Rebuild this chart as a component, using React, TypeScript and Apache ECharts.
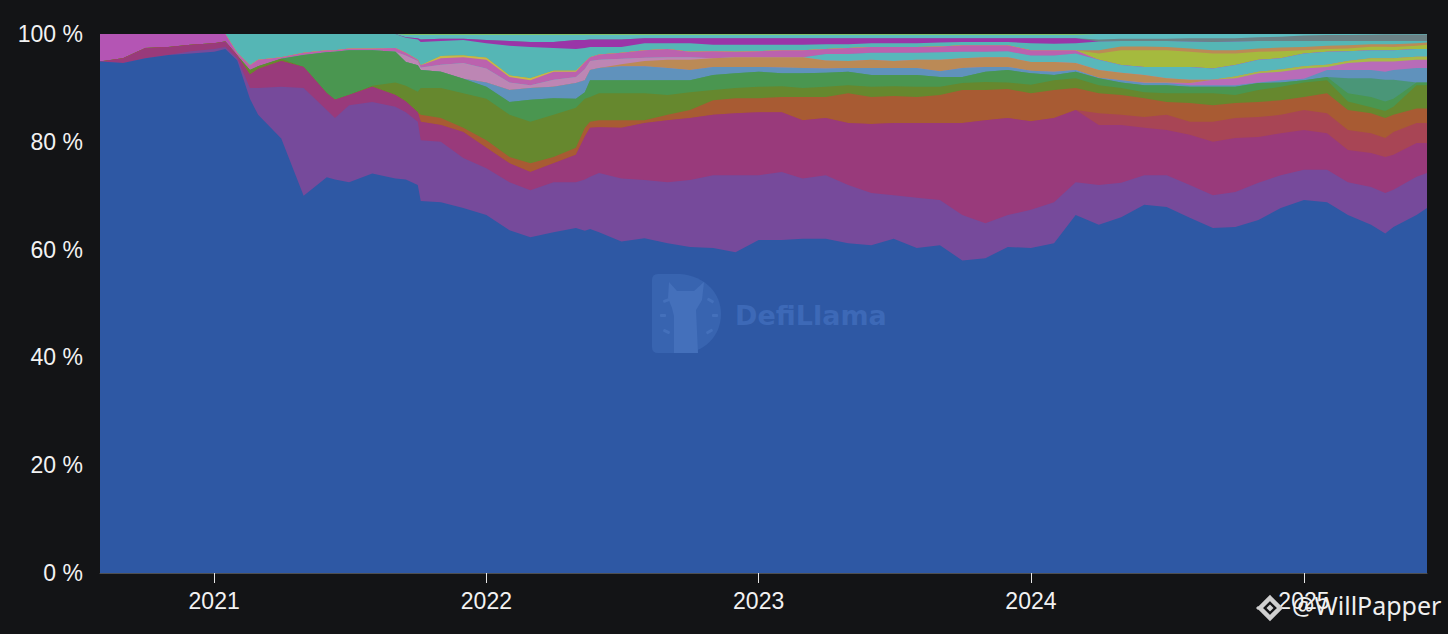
import React, { useEffect, useRef } from "react";
import * as echarts from "echarts";

const sampleDates = [
  "2020-08-01","2020-09-01","2020-10-01","2020-11-01","2020-12-01","2021-01-01","2021-01-16",
  "2021-02-01","2021-02-18","2021-03-01","2021-04-01","2021-05-01","2021-06-01","2021-06-12","2021-07-01","2021-08-01","2021-09-01","2021-09-15","2021-10-01","2021-10-05",
  "2021-11-01","2021-12-01","2022-01-01","2022-02-01","2022-03-01","2022-04-01","2022-05-01","2022-05-13","2022-05-20","2022-06-01","2022-07-01","2022-08-01","2022-09-01","2022-10-01","2022-11-01","2022-12-01",
  "2023-01-01","2023-02-01","2023-03-01","2023-04-01","2023-05-01","2023-06-01","2023-07-01","2023-08-01","2023-09-01","2023-10-01","2023-11-01","2023-12-01",
  "2024-01-01","2024-02-01","2024-03-01","2024-04-01","2024-05-01","2024-06-01","2024-07-01","2024-08-01","2024-09-01","2024-10-01","2024-11-01","2024-12-01",
  "2025-01-01","2025-02-01","2025-03-01","2025-04-01","2025-04-20","2025-05-01","2025-06-01","2025-06-15",
];
const yearTicks = ["2021-01-01", "2022-01-01", "2023-01-01", "2024-01-01", "2025-01-01"];
const percentTicks = [0, 20, 40, 60, 80, 100];

// Upper edge of each band in the 100% stack (0 = band absent).
const blueTop = [94.9,94.6,95.5,96.1,96.4,96.7,97.2,
  95.1,88,85,80.6,70,73.4,73,72.5,74.1,73.2,73,72,69,
  68.8,67.7,66.4,63.6,62.3,63.2,64,63.5,63.8,63.2,61.5,62.1,61.2,60.5,60.3,59.5,
  61.8,61.8,62,62,61.2,60.8,62,60.3,60.8,58,58.4,60.5,
  60.3,61.2,66.4,64.6,66,68.3,67.9,65.9,64,64.2,65.5,67.7,
  69.2,68.8,66.4,64.6,63,64.2,66.4,67.7];
const purpleTop = [0,0,0,0,96.8,97.2,97.6,
  95.5,90,90,90.2,90,85.9,84.4,86.8,87.4,86.5,85.5,83.7,80.3,
  80,77,75.1,72.5,71,72.5,72.5,73,73.5,74.2,73.2,72.9,72.5,72.9,73.8,73.8,
  73.8,74.4,73.2,73.8,72,70.5,70.1,69.6,69.2,66.4,64.9,66.4,
  67.4,68.8,72.5,72,72.4,73.8,73.8,72,70.1,70.7,72.4,73.8,
  74.8,74.8,72.5,71.6,70.5,71.1,73.5,74.2];
const magentaTop = [0,95.5,97.4,97.6,98,98.3,98.6,
  96,92.5,93.5,95,93.9,89,87.8,88.7,90.2,88.7,87.5,85.5,83.7,
  83.1,81.8,78.9,76,74.4,76,77.6,81,82.6,82.7,82.6,83.5,84,84.4,85,85.3,
  85.5,85.5,84,84.4,83.5,83.3,83.5,83.5,83.5,83.5,84,84.4,
  83.8,84.4,85.9,83.1,83.1,82.6,82.2,81.3,80,80.7,80.9,81.6,
  82.2,81.6,78.5,77.9,77.2,77.6,79.8,79.8];
const crimsonTop = [0,0,0,0,0,0,0,
  0,0,0,0,0,0,0,0,0,0,0,0,0,
  0,0,0,0,0,0,0,0,0,0,0,0,0,0,0,0,
  0,0,0,0,0,0,0,0,0,0,0,0,
  0,0,0,85.3,85,84.6,85,83.7,83.7,84.4,84.6,85,
  85.9,85.3,82.2,81.6,80.7,81.8,83.5,83.5];
const orangeTop = [0,0,0,0,0,0,0,
  0,0,0,0,0,0,0,0,0,0,0,0,85,
  84.4,82.6,80.3,77.2,76,77.2,78.9,82.6,83.7,84,84,84,85,85.9,87.7,88.1,
  88.1,88.3,88.3,88.3,89,88.3,88.5,88.3,88.7,89.6,89.6,89.8,
  89,89.6,90,89,88.7,88.1,87.4,87.2,86.8,87.2,87.4,87.7,
  88.3,89,85.9,85.3,84.4,85,86.2,86.2];
const oliveTop = [0,0,0,0,0,0,0,
  0,93.3,94,95.4,0,0,0,0,90.4,91,90.4,89.3,90,
  90,89,88,85,83.7,85,86.3,88,88.3,89,89,89,88.7,89.2,89.6,90,
  90.2,90.3,90,90.2,90.5,90.2,90.3,90.2,90.2,90.9,91.1,91,
  90.6,91.4,91.8,90.5,90,89.2,89,89,89,88.7,89.6,90.2,
  91,91.4,87.5,86.4,85.7,86.5,90.5,90.5];
const greenTop = [0,0,0,0,0,0,0,
  0,0,0,0,96.1,96.6,96.7,97,97,96.7,94.8,94.2,93.3,
  93,91.7,90.2,87.4,87.8,88.1,88,89.2,91.4,91.4,91.4,91.4,91.4,91.4,92.4,92.7,
  93,92.7,92.7,92.8,93,92.4,92.4,92.4,92,92,93,93.3,
  92.7,92.4,93,91.8,91,90.5,90.5,90.2,90.2,90.2,90.9,91,
  91.4,92,89,88.3,87.5,88,91,91];
const seaGreenTop = [0,0,0,0,0,0,0,
  0,0,0,0,0,0,0,0,0,0,0,0,0,
  0,0,0,0,0,0,0,0,0,0,0,0,0,0,0,0,
  0,0,0,0,0,0,0,0,0,0,0,0,
  0,0,0,0,0,0,0,0,0,0,0,0,
  0,92,91.8,91.8,91.5,91.5,0,0];
const steelTop = [0,0,0,0,0,0,0,
  0,0,0,0,0,0,0,0,0,0,0,0,0,
  0,0,91,89.6,90,90.2,90.9,91.4,93.3,93.7,94,94,93.7,93.3,93.9,93.9,
  93.9,93.8,93.7,93.6,93.7,93.7,93.7,93.7,93.1,93.7,93.9,93.9,
  93.2,93,93.3,91.9,91.4,90.9,90.9,90.5,90.5,90.5,91,91.4,
  91.7,93.3,93.3,93.3,93,93.3,93.7,93.7];
const mauveLowTop = [0,0,0,0,0,0,0,
  0,0,0,0,0,0,0,0,0,0,0,0,0,
  0,0,0,0,0,0,0,0,0,0,0,0,0,0,0,0,
  0,0,0,0,0,0,0,0,0,0,0,0,
  0,0,0,0,0,91,91,90.9,91.5,91.8,92.7,93,
  93.6,93.9,94.6,94.9,94.9,94.9,95.2,95.2];
const limeLowTop = [0,0,0,0,0,0,0,
  0,0,0,0,0,0,0,0,0,0,0,0,0,
  0,0,0,0,0,0,0,0,0,0,0,0,0,0,0,0,
  0,0,0,0,0,0,0,0,0,0,0,0,
  0,0,0,0,0,0,0,0,0,92.1,93,93.4,
  94,94.3,95,95.5,95.5,95.5,95.8,95.8];
const tanTop = [0,0,0,0,0,0,0,
  0,0,0,0,0,0,0,0,0,0,0,0,0,
  0,0,0,0,0,0,0,0,0,0,94.4,95,95.2,95.2,95.5,95.7,
  95.7,95.7,95.7,95.1,95,95.2,95,95.2,95.2,95.5,95.7,95.7,
  94.8,94.8,94.6,93.3,92.8,92.4,91.8,91.5,0,0,0,0,
  0,0,0,0,0,0,0,0];
const paleTop = [0,0,0,0,0,0,0,
  0,0,0,0,0,0,0,0,96.6,96.7,96,95,93.8,
  94.3,94.6,93.6,91,90.5,91.5,92,93.5,95,95.2,95.4,95.6,95.7,95.7,0,0,
  0,0,0,0,0,0,0,0,0,0,0,0,
  0,0,0,0,0,0,0,0,0,0,0,0,
  0,0,0,0,0,0,0,0];
const tealLowTop = [0,0,0,0,0,0,0,
  0,0,0,0,0,0,0,0,0,0,0,0,0,
  0,0,0,0,0,0,0,0,0,0,0,0,0,0,0,0,
  0,0,0,96.3,96.3,96.5,96.5,96.5,96.6,96.7,96.7,96.8,
  96,96,96.4,95.2,94.25,93.9,93.9,93.9,93.6,94.25,95.2,95.5,
  96.4,96.7,96.8,97,97,97,97.2,97.2];
const mauveTop = [0,0,0,0,0,0,100,
  96.5,94.2,95.2,95.7,96.5,97,97,97.3,97.3,97.4,96.5,95.2,94.2,
  95.5,95.7,95.2,92,91.4,93,93,94.8,95.7,96.2,96.5,97,97.2,96.7,96.8,96.7,
  96.8,97,97,97.2,97.4,97.6,97.6,97.6,97.7,97.9,97.9,97.9,
  97,97,97,0,0,0,0,0,0,0,0,0,
  0,0,0,0,0,0,0,0];
const orchidTop = [100,100,100,100,100,100,100,
  0,0,0,0,0,0,0,0,0,0,0,0,0,
  0,0,0,0,0,0,0,0,0,0,0,0,0,0,0,0,
  0,0,0,0,0,0,0,0,0,0,0,0,
  0,0,0,0,0,0,0,0,0,0,0,0,
  0,0,0,0,0,0,0,0];
const goldTop = [0,0,0,0,0,0,0,
  0,0,0,0,0,0,0,0,0,0,0,0,0,
  95.9,96,95.6,92.3,91.8,93.2,93.2,0,0,0,0,0,0,0,0,0,
  0,0,0,0,0,0,0,0,0,0,0,0,
  0,0,0,0,0,0,0,0,0,0,0,0,
  0,0,0,0,0,0,0,0];
const yellowTop = [0,0,0,0,0,0,0,
  0,0,0,0,0,0,0,0,0,0,0,0,0,
  0,0,0,0,0,0,0,0,0,0,0,0,0,0,0,0,
  0,0,0,0,0,0,0,0,0,0,0,0,
  0,0,0,96.4,97,97,97,96.7,96.4,96.4,96.7,96.8,
  97,97.2,97.3,97.65,97.65,97.6,97.8,98];
const tanHighTop = [0,0,0,0,0,0,0,
  0,0,0,0,0,0,0,0,0,0,0,0,0,
  0,0,0,0,0,0,0,0,0,0,0,0,0,0,0,0,
  0,0,0,0,0,0,0,0,0,0,0,0,
  0,0,0,97,97.7,97.7,97.6,97.3,97,97,97.3,97.5,
  97.6,97.8,97.9,98.1,98.1,98.1,98.3,98.4];
const tealTop = [0,0,0,0,0,0,0,
  100,100,100,100,100,100,100,100,100,100,99.3,99,98.5,
  98.7,98.9,98.3,97.8,97.6,97.4,97.2,97.4,97.6,97.6,97.6,98.3,98.3,98.3,98,98,
  98,98,98,98.1,98.1,98.3,98.3,98.3,98.4,98.5,98.5,98.5,
  98.3,98.2,98.3,98.6,98.7,98.7,98.7,98.6,98.5,98.6,98.7,98.7,
  98.7,98.7,98.7,98.7,98.7,98.7,98.7,98.7];
const violetTop = [0,0,0,0,0,0,0,
  0,0,0,0,0,0,0,0,0,0,99.4,99.2,99,
  99.1,99.1,98.9,98.7,98.5,98.5,98.9,98.9,99,99,99,99.2,99.2,99.2,99.2,99.2,
  99.2,99.2,99.2,99.2,99.2,99.2,99.2,99.2,99.2,99.2,99.2,99.2,
  99.2,99.2,99.2,0,0,0,0,0,0,0,0,0,
  0,0,0,0,0,0,0,0];
const slateTop = [0,0,0,0,0,0,0,
  0,0,0,0,0,0,0,0,0,0,0,0,0,
  0,0,0,0,0,0,0,0,0,0,0,0,0,0,0,0,
  0,0,0,0,0,0,0,0,0,0,0,0,
  0,0,0,99,99.1,99.1,99.1,99.2,99.2,99.2,99.4,99.5,
  99.7,99.8,99.8,99.85,99.9,99.9,99.9,99.9];
const cyanTop = [0,0,0,0,0,0,0,
  0,0,0,0,0,0,0,0,0,0,99.8,99.8,99.8,
  99.8,99.8,99.8,99.8,99.8,99.8,99.8,99.8,99.8,99.8,99.8,99.8,99.8,99.8,99.8,99.8,
  99.8,99.8,99.8,99.8,99.8,99.8,99.8,99.8,99.8,99.8,99.8,99.8,
  99.8,99.8,99.8,100,100,100,100,100,100,100,100,100,
  100,100,100,100,100,100,100,100];
const limeTop = [0,0,0,0,0,0,0,
  0,0,0,0,0,0,0,0,0,0,100,100,100,
  100,100,100,100,100,100,100,100,100,100,100,100,100,100,100,100,
  100,100,100,100,100,100,100,100,100,100,100,100,
  100,100,100,0,0,0,0,0,0,0,0,0,
  0,0,0,0,0,0,0,0];

const bands: [string, number[], string][] = [
  ["blue", blueTop, "#2e58a4"],
  ["purple", purpleTop, "#764a9b"],
  ["magenta", magentaTop, "#993a7b"],
  ["crimson", crimsonTop, "#a84555"],
  ["orange", orangeTop, "#a85b33"],
  ["olive", oliveTop, "#66882e"],
  ["green", greenTop, "#4a9650"],
  ["seaGreen", seaGreenTop, "#4a9678"],
  ["steel", steelTop, "#6092bc"],
  ["mauveLow", mauveLowTop, "#b86cb8"],
  ["limeLow", limeLowTop, "#a8ba48"],
  ["tan", tanTop, "#bb8a56"],
  ["pale", paleTop, "#bd86b4"],
  ["tealLow", tealLowTop, "#58b7bb"],
  ["orchid", orchidTop, "#b455b4"],
  ["mauve", mauveTop, "#bb62ae"],
  ["gold", goldTop, "#c8b848"],
  ["yellow", yellowTop, "#a5ba3e"],
  ["tanHigh", tanHighTop, "#bb8a56"],
  ["teal", tealTop, "#55b6b5"],
  ["violet", violetTop, "#9a35a8"],
  ["slate", slateTop, "#6b8286"],
  ["cyan", cyanTop, "#5cbcc0"],
  ["lime", limeTop, "#7fc46a"],
];

const FONT = '"Liberation Sans", Arial, sans-serif';
const ms = (d: string) => Date.parse(d + "T00:00:00Z");

// Bands are cumulative: each fills from 0 up to its top, and lower bands paint over higher ones.
function buildSeries() {
  const running = sampleDates.map(() => 0);
  const list = bands.map(([name, tops, color]) => ({
    name,
    type: "line",
    symbol: "none",
    silent: true,
    lineStyle: { width: 0 },
    areaStyle: { color, opacity: 1, origin: "start" },
    data: sampleDates.map((d, i) => {
      running[i] = Math.max(running[i], tops[i]);
      return [ms(d), running[i]];
    }),
  }));
  return list.reverse();
}

export default function App() {
  const ref = useRef<HTMLDivElement>(null);
  useEffect(() => {
    const chart = echarts.init(ref.current!, null, { renderer: "svg" });
    echarts.graphic.registerShape(
      "llamaD",
      echarts.graphic.extendPath(
        "M0 6 Q0 0 6 0 L28 0 C54 2 69 20 69 40 C69 62 52 79 30 79 L6 79 Q0 79 0 73 Z",
        {}
      )
    );
    echarts.graphic.registerShape(
      "llamaBody",
      echarts.graphic.extendPath(
        "M17 8 L25 17 L42 17 L52 8 L50 26 L44 36 L46 79 L22 79 L22 42 L20 34 L16 24 Z",
        {}
      )
    );
    const rays = [[11, 25, 7, 3, 20], [55, 25, 7, 3, -30], [8, 40, 6, 3, 0], [60, 40, 6, 3, 0], [11, 56, 7, 3, -25], [54, 56, 7, 3, 30]];
    chart.setOption({
      animation: false,
      backgroundColor: "#131416",
      grid: { left: 100, right: 21, top: 34, bottom: 61, containLabel: false },
      xAxis: {
        type: "value",
        min: ms(sampleDates[0]),
        max: ms(sampleDates[sampleDates.length - 1]),
        scale: true,
        axisLine: { show: true, onZero: false, lineStyle: { color: "rgba(255,255,255,0.25)", width: 1 } },
        axisTick: { show: true, length: 10, customValues: yearTicks.map(ms), lineStyle: { color: "#e8e8e8", width: 1 } },
        axisLabel: {
          customValues: yearTicks.map(ms),
          formatter: (v: number) => String(new Date(v).getUTCFullYear()),
          color: "#f2f2f2",
          fontFamily: FONT,
          fontSize: 23,
          margin: 16,
        },
        splitLine: { show: false },
      },
      yAxis: {
        type: "value",
        min: percentTicks[0],
        max: percentTicks[percentTicks.length - 1],
        interval: 20,
        axisLine: { show: false },
        axisTick: { show: false },
        splitLine: { show: false },
        axisLabel: { formatter: "{value} %", color: "#f2f2f2", fontFamily: FONT, fontSize: 23, margin: 17 },
      },
      series: buildSeries(),
      graphic: [
        {
          type: "group",
          x: 652,
          y: 274,
          silent: true,
          children: [
            { type: "llamaD", z: 100, style: { fill: "#3864b0" } },
            { type: "llamaBody", z: 101, style: { fill: "#4470bb" } },
            ...rays.map(([x, y, w, h, r]) => ({
              type: "rect",
              z: 101,
              x,
              y,
              originX: w / 2,
              originY: h / 2,
              rotation: (r * Math.PI) / 180,
              shape: { width: w, height: h, r: 1 },
              style: { fill: "#4470bb" },
            })),
          ],
        },
        {
          type: "text",
          x: 735,
          y: 302,
          z: 100,
          silent: true,
          style: { text: "DefiLlama", fill: "#3d69b7", font: 'bold 27px "DejaVu Sans", sans-serif' },
        },
        {
          type: "group",
          x: 1270,
          y: 608,
          silent: true,
          children: [
            { type: "polygon", z: 100, shape: { points: [[0, -10], [10, 0], [0, 10], [-10, 0]] }, style: { fill: "none", stroke: "#d0d0d0", lineWidth: 4.5 } },
            { type: "polygon", z: 100, shape: { points: [[0, -3.5], [3.5, 0], [0, 3.5], [-3.5, 0]] }, style: { fill: "#d0d0d0" } },
            { type: "polygon", z: 100, shape: { points: [[-12, -2], [-10, 0], [-12, 2], [-14, 0]] }, style: { fill: "#d0d0d0" } },
          ],
        },
        {
          type: "text",
          x: 1292,
          y: 592,
          z: 100,
          silent: true,
          style: { text: "@WillPapper", fill: "#f0f0f0", font: '25px "Noto Sans", sans-serif' },
        },
      ],
    });
    return () => chart.dispose();
  }, []);
  return <div ref={ref} style={{ position: "fixed", left: 0, top: 0, width: 1448, height: 634 }} />;
}
